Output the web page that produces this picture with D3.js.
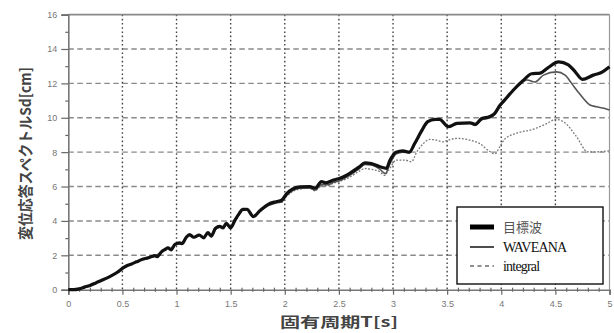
<!DOCTYPE html>
<html><head><meta charset="utf-8">
<script src="https://cdn.jsdelivr.net/npm/d3@7"></script>
<style>body{margin:0;background:#fff}svg{display:block}</style>
</head><body>
<script>
const xTicks = [0, 0.5, 1, 1.5, 2, 2.5, 3, 3.5, 4, 4.5, 5];
const xTickLabels = ["0","0.5","1","1.5","2","2.5","3","3.5","4","4.5","5"];
const yTicks = [0, 2, 4, 6, 8, 10, 12, 14, 16];
const seriesNames = ["目標波", "WAVEANA", "integral"];

const targetT = [0,0.05,0.10,0.15,0.20,0.25,0.30,0.37,0.45,0.51,0.55,0.585,0.63,0.68,0.74,0.78,0.80,0.82,0.86,0.90,0.92,0.95,0.985,1.03,1.05,1.09,1.12,1.16,1.21,1.25,1.29,1.32,1.36,1.40,1.43,1.46,1.50,1.54,1.58,1.61,1.65,1.71,1.77,1.85,1.92,1.97,2.02,2.07,2.14,2.23,2.28,2.34,2.38,2.45,2.51,2.60,2.69,2.74,2.80,2.88,2.94,2.97,3.03,3.09,3.15,3.20,3.26,3.32,3.39,3.43,3.51,3.59,3.71,3.76,3.82,3.89,3.94,3.99,4.02,4.11,4.20,4.28,4.36,4.43,4.53,4.62,4.68,4.75,4.85,4.92,5.0];
const targetSd = [0,0,0.05,0.15,0.25,0.38,0.52,0.72,1.0,1.28,1.42,1.5,1.62,1.75,1.86,1.95,1.98,1.92,2.2,2.36,2.44,2.32,2.64,2.72,2.68,3.05,3.2,3.05,3.18,3.02,3.32,3.12,3.57,3.68,3.6,3.86,3.6,4.05,4.44,4.67,4.68,4.25,4.6,4.98,5.12,5.2,5.6,5.85,5.98,6.0,5.9,6.28,6.22,6.38,6.48,6.77,7.15,7.38,7.33,7.15,7.06,7.5,8.0,8.08,8.0,8.5,9.19,9.77,9.9,9.9,9.48,9.67,9.71,9.62,9.96,10.06,10.26,10.74,10.95,11.6,12.15,12.56,12.6,12.9,13.25,13.08,12.7,12.23,12.48,12.62,12.97];

const waveanaT = [0,0.1,0.2,0.3,0.45,0.51,0.6,0.7,0.8,0.86,0.92,0.95,0.99,1.05,1.09,1.12,1.16,1.21,1.25,1.29,1.32,1.36,1.40,1.43,1.46,1.50,1.54,1.58,1.61,1.65,1.71,1.77,1.85,1.92,1.97,2.02,2.07,2.14,2.23,2.28,2.34,2.40,2.45,2.51,2.6,2.69,2.74,2.80,2.88,2.93,2.97,3.03,3.09,3.15,3.20,3.26,3.32,3.39,3.43,3.51,3.59,3.71,3.76,3.82,3.89,3.94,3.99,4.02,4.11,4.20,4.24,4.31,4.39,4.51,4.59,4.65,4.72,4.82,4.88,4.95,5.0];
const waveanaSd = [0,0.05,0.25,0.52,1.0,1.27,1.55,1.78,1.96,2.18,2.42,2.35,2.62,2.7,3.02,3.16,3.04,3.15,3.02,3.28,3.14,3.52,3.64,3.6,3.8,3.62,4.0,4.4,4.62,4.64,4.28,4.55,4.9,5.05,5.1,5.5,5.75,5.9,5.92,5.78,6.12,6.1,6.25,6.35,6.65,7.05,7.28,7.25,7.0,6.75,7.3,7.9,8.0,7.95,8.45,9.15,9.72,9.95,9.95,9.5,9.62,9.65,9.55,9.88,9.98,10.2,10.7,10.9,11.55,12.1,12.2,12.08,12.48,12.67,12.48,12.0,11.42,10.74,10.64,10.55,10.45];

const integralT = [0,0.1,0.2,0.3,0.45,0.51,0.6,0.7,0.8,0.86,0.92,0.95,0.99,1.05,1.09,1.12,1.16,1.21,1.25,1.29,1.32,1.36,1.40,1.43,1.46,1.50,1.54,1.58,1.61,1.65,1.71,1.77,1.85,1.92,1.97,2.02,2.07,2.14,2.23,2.28,2.34,2.40,2.45,2.51,2.6,2.69,2.74,2.80,2.88,2.92,2.96,3.03,3.11,3.17,3.22,3.28,3.34,3.40,3.46,3.51,3.59,3.71,3.80,3.89,3.94,3.99,4.03,4.14,4.29,4.40,4.51,4.59,4.69,4.80,4.88,5.0];
const integralSd = [0,0.05,0.25,0.52,1.0,1.27,1.55,1.78,1.96,2.18,2.4,2.33,2.6,2.68,3.0,3.15,3.03,3.14,3.0,3.27,3.12,3.5,3.62,3.58,3.78,3.6,3.98,4.38,4.6,4.62,4.3,4.55,4.92,5.05,5.08,5.45,5.7,5.85,5.9,5.75,6.05,6.05,6.2,6.3,6.55,6.9,7.05,7.0,6.85,6.65,6.95,7.54,7.54,7.44,8.02,8.5,8.74,8.7,8.6,8.7,8.8,8.7,8.5,8.05,7.9,8.35,8.75,9.1,9.32,9.6,9.9,9.7,8.95,8.02,8.02,8.08];

const W = 614, H = 333;
const svg = d3.select("body").append("svg").attr("width", W).attr("height", H);
const x = d3.scaleLinear().domain([0, 5]).range([68.3, 609.5]);
const y = d3.scaleLinear().domain([0, 16]).range([289.7, 14.6]);
const tickFont = "Liberation Sans, Arial, sans-serif";

// grid
svg.append("g").selectAll("line").data(yTicks.filter(d => d > 0 && d < 16)).join("line")
  .attr("x1", x(0)).attr("x2", x(5)).attr("y1", d => y(d)).attr("y2", d => y(d))
  .attr("stroke", "#8a8a8a").attr("stroke-width", 1.4).attr("stroke-dasharray", "5.5,3.5");
svg.append("g").selectAll("line").data(xTicks.filter(d => d > 0 && d < 5)).join("line")
  .attr("x1", d => x(d)).attr("x2", d => x(d)).attr("y1", y(16)).attr("y2", y(0))
  .attr("stroke", "#444").attr("stroke-width", 1.4).attr("stroke-dasharray", "1.6,2.6");

// frame
svg.append("line").attr("x1", x(0)).attr("x2", x(5)).attr("y1", y(16)).attr("y2", y(16)).attr("stroke", "#888").attr("stroke-width", 1.6);
svg.append("line").attr("x1", x(5)).attr("x2", x(5)).attr("y1", y(16)).attr("y2", y(0)).attr("stroke", "#999").attr("stroke-width", 1.2);

// axes
const yAxis = d3.axisLeft(y).tickValues(yTicks).tickSize(7).tickPadding(4).tickFormat(d3.format("d"));
const gy = svg.append("g").attr("transform", `translate(${x(0)},0)`).call(yAxis);
const yMinor = d3.axisLeft(y).tickValues([1,3,5,7,9,11,13,15]).tickSize(3).tickFormat("");
const gym = svg.append("g").attr("transform", `translate(${x(0)},0)`).call(yMinor);
gym.select(".domain").remove();
const xAxis = d3.axisBottom(x).tickValues(xTicks).tickSize(5).tickPadding(6).tickFormat((d, i) => xTickLabels[i]);
const gx = svg.append("g").attr("transform", `translate(0,${y(0)})`).call(xAxis);
const minorX = d3.range(1, 50).filter(i => i % 5 !== 0).map(i => i / 10);
const gxm = svg.append("g").attr("transform", `translate(0,${y(0)})`).call(d3.axisBottom(x).tickValues(minorX).tickSize(2).tickFormat(""));
gxm.select(".domain").remove();
gxm.selectAll("line").attr("y1", -2);
[gy, gx, gym, gxm].forEach(g => {
  g.selectAll(".domain").attr("stroke", "#777").attr("stroke-width", 1.6);
  g.selectAll(".tick line").attr("stroke", "#666").attr("stroke-width", 1.2);
  g.selectAll("text").attr("fill", "#777").style("font-family", tickFont).style("font-size", "9px");
});

// lines
const line = d3.line().x(d => x(d[0])).y(d => y(d[1])).curve(d3.curveMonotoneX);
const integral = integralT.map((t, i) => [t, integralSd[i]]);
const waveana = waveanaT.map((t, i) => [t, waveanaSd[i]]);
const target = targetT.map((t, i) => [t, targetSd[i]]);
svg.append("path").datum(integral).attr("d", line).attr("fill", "none").attr("stroke", "#777").attr("stroke-width", 1.3).attr("stroke-dasharray", "1.8,1.6");
svg.append("path").datum(waveana).attr("d", line).attr("fill", "none").attr("stroke", "#555").attr("stroke-width", 1.6);
svg.append("path").datum(target).attr("d", line).attr("fill", "none").attr("stroke", "#111").attr("stroke-width", 3.2).attr("stroke-linejoin", "round");

// legend
const lg = svg.append("g");
lg.append("rect").attr("x", 457).attr("y", 207).attr("width", 146).attr("height", 77)
  .attr("fill", "#fff").attr("stroke", "#111").attr("stroke-width", 1.4);
const legY = [227, 247, 266];
const legStyles = [
  {w: 5, c: "#000", dash: null},
  {w: 1.4, c: "#000", dash: null},
  {w: 1.2, c: "#222", dash: "4,3.5"}
];
seriesNames.forEach((n, i) => {
  lg.append("line").attr("x1", 470).attr("x2", 494).attr("y1", legY[i]).attr("y2", legY[i])
    .attr("stroke", legStyles[i].c).attr("stroke-width", legStyles[i].w).attr("stroke-dasharray", legStyles[i].dash);
  lg.append("text").attr("x", 503).attr("y", legY[i] + 5).text(n)
    .attr("fill", i === 0 ? "#555" : "#111")
    .style("font-family", i === 0 ? "Noto Sans CJK JP" : "Liberation Serif, Times New Roman, serif")
    .style("font-size", i === 0 ? "13px" : "14px")
    .style("letter-spacing", i === 0 ? "0px" : "-0.8px");
});

// axis titles
svg.append("text").attr("x", 280).attr("y", 327).text("固有周期T[s]")
  .attr("textLength", 118).attr("lengthAdjust", "spacingAndGlyphs")
  .attr("fill", "#444").style("font-family", "Noto Sans CJK JP").style("font-size", "14px").style("font-weight", "bold");
svg.append("text").attr("transform", "translate(31,240) rotate(-90)").text("変位応答スペクトルSd[cm]")
  .attr("textLength", 173).attr("lengthAdjust", "spacingAndGlyphs")
  .attr("fill", "#444").style("font-family", "Noto Sans CJK JP").style("font-size", "15px").style("font-weight", "bold");
</script>
</body></html>
